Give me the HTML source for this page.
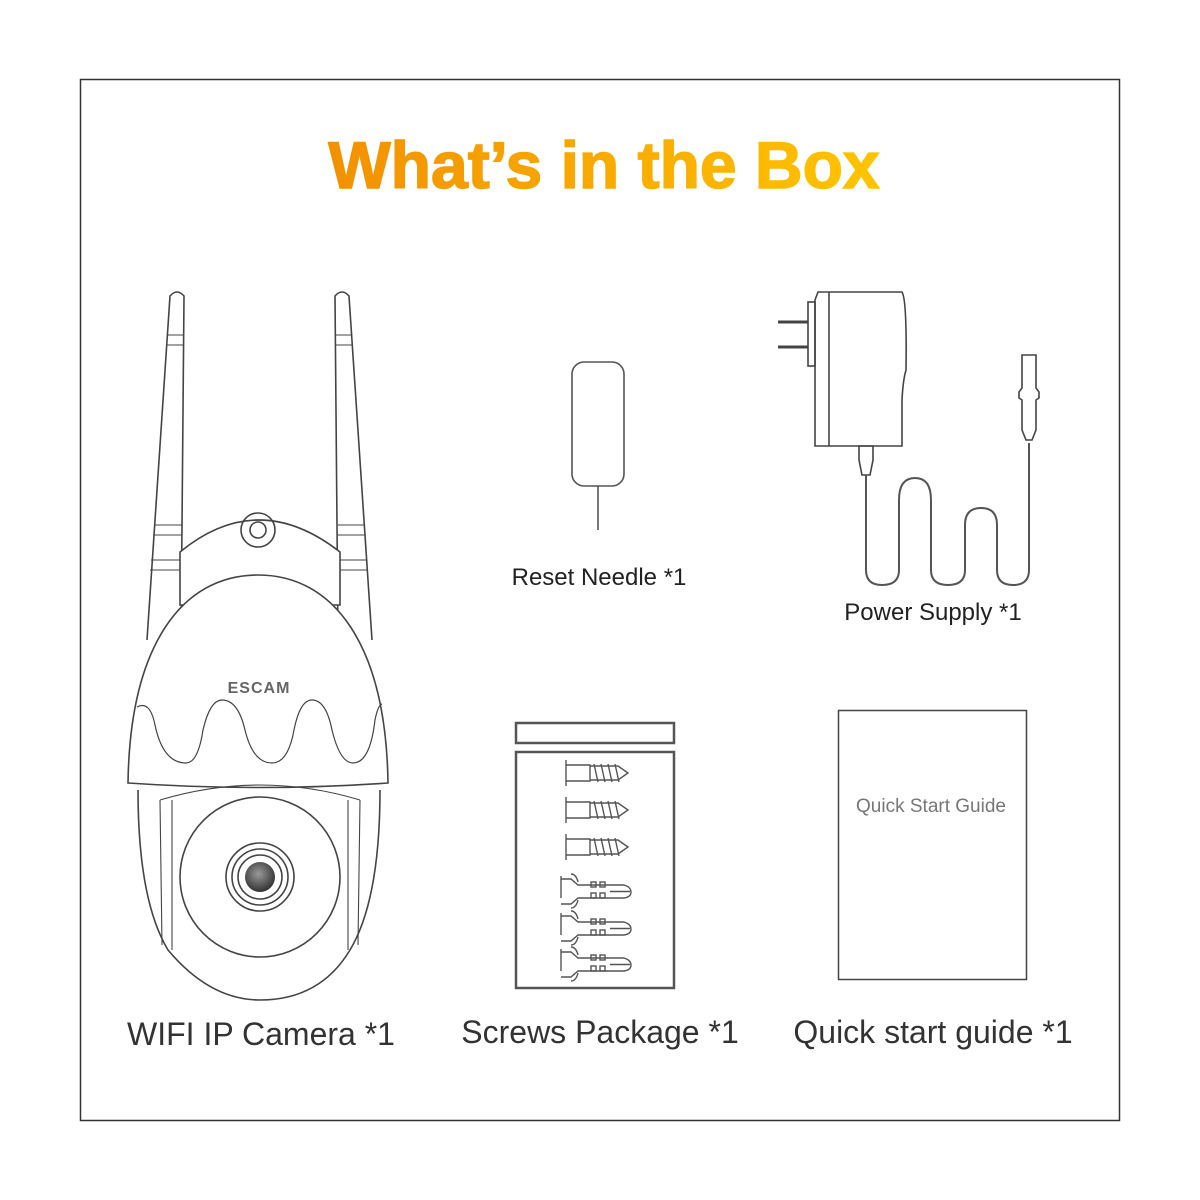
<!DOCTYPE html>
<html><head><meta charset="utf-8"><style>
html,body{margin:0;padding:0;background:#fff}
svg{display:block}
text{font-family:"Liberation Sans",sans-serif}
</style></head><body>
<svg width="1200" height="1200" viewBox="0 0 1200 1200" xmlns="http://www.w3.org/2000/svg">
<defs>
<linearGradient id="tg" x1="0" y1="0" x2="1" y2="0">
<stop offset="0" stop-color="#f29100"/><stop offset="1" stop-color="#ffc400"/>
</linearGradient>
<radialGradient id="lg" cx="0.45" cy="0.4" r="0.6"><stop offset="0" stop-color="#999"/><stop offset="1" stop-color="#333"/></radialGradient>
</defs>
<rect x="80.5" y="79.5" width="1039" height="1041" fill="none" stroke="#333" stroke-width="1.5"/>
<text x="604" y="188" text-anchor="middle" font-size="66" font-weight="bold" fill="url(#tg)" stroke="url(#tg)" stroke-width="1.5">What’s in the Box</text>

<g fill="none" stroke="#444" stroke-width="1.6">
<path d="M147 640 L170 296 Q177 288 184 296 L181 640" fill="#fff"/>
<path d="M167 335 L184 335 M166 345 L184 345 M154 525 L182 525 M153 535 L182 535 M151 560 L182 560 M150 570 L182 570" stroke-width="1.1"/>
<path d="M372 640 L349 296 Q342 288 335 296 L338 640" fill="#fff"/>
<path d="M335 335 L351 335 M335 345 L352 345 M338 525 L364 525 M338 535 L365 535 M338 560 L367 560 M338 570 L368 570" stroke-width="1.1"/>
<path d="M180 605 L180 552 Q258 488 340 552 L340 605 Z" fill="#fff"/>
<circle cx="258" cy="530" r="17"/><circle cx="258" cy="530" r="8"/>
<path d="M128 783 C130 645 182 575 258 575 C334 575 386 645 388 783 Q258 792 128 783 Z" fill="#fff"/>
<path d="M137 707 Q150 700 155 725 Q163 763 186 763 Q198 763 203 730 Q210 700 222 700 Q238 700 245 730 Q253 763 272 763 Q288 763 294 730 Q300 700 312 700 Q326 700 332 730 Q340 763 353 763 Q370 763 375 720 Q378 705 382 704" stroke-width="1.2"/>
<path d="M138 790 Q138 900 168 950 Q210 1000 260 1000 Q320 1000 350 950 Q380 900 380 790" fill="#fff"/>
<path d="M160 800 L162 945 M172 800 Q172 810 172 950 M360 800 L358 945 M348 800 Q348 810 348 950" stroke-width="1.1"/>
<path d="M160 800 Q260 770 360 800" stroke-width="1.1"/>
<circle cx="260" cy="877" r="80"/>
<circle cx="260" cy="877" r="34"/><circle cx="260" cy="877" r="28"/><circle cx="260" cy="877" r="22"/>
<circle cx="260" cy="877" r="15" fill="url(#lg)" stroke="none"/>
</g>
<text x="259" y="693" text-anchor="middle" font-size="16" font-weight="bold" fill="#666" letter-spacing="1">ESCAM</text>

<g fill="none" stroke="#555" stroke-width="1.6">
<rect x="572" y="362" width="52" height="124" rx="12"/>
<path d="M598 486 L598 530"/>
</g>

<g fill="none" stroke="#444" stroke-width="1.6">
<path d="M818 292 L902 292 Q907 300 906 370 Q903 380 902 400 L902 446 L815 446 L815 300 Z" fill="#fff"/>
<path d="M829 292 L829 446"/>
<rect x="808" y="302" width="7" height="64"/>
<path d="M778 322 L808 322 M778 347 L808 347" stroke-width="3"/>
<path d="M859 446 L873 446 L873 460 L870 475 L862 475 L859 460 Z"/>
<path d="M866 475 L866 570 Q866 585 882 585 Q899 585 899 570 L899 500 Q899 478 915 478 Q931 478 931 500 L931 570 Q931 585 948 585 Q965 585 965 570 L965 525 Q965 508 981 508 Q997 508 997 525 L997 570 Q997 585 1013 585 Q1029 585 1029 570 L1029 443" stroke="#555" stroke-width="2"/>
<path d="M1022 355 L1036 355 L1036 388 L1039 392 L1039 398 L1036 400 L1036 430 L1032 440 L1026 440 L1022 430 L1022 400 L1019 398 L1019 392 L1022 388 Z"/>
</g>

<g fill="none" stroke="#555" stroke-width="2.5">
<rect x="516" y="723" width="158" height="20"/>
<rect x="516" y="752" width="158" height="236"/>
</g>
<g fill="none" stroke="#555" stroke-width="1.4">
<g id="sc">
<path d="M566 760 L566 786 M566 765 L590 765 L590 781 L566 781 M590 766 L618 766 L628 773 L618 780 L590 780 M594 764 L598 782 M601 764 L605 782 M608 764 L612 782 M615 764 L619 782"/>
</g>
<use href="#sc" y="37"/><use href="#sc" y="74"/>
<g id="an">
<path d="M561 876 L561 898 M561 879 L571 879 L578 885 L624 885 Q631 887 631 892 Q631 897 624 898 L578 898 L571 904 L561 904 M571 874 Q576 874 578 882 M571 908 Q576 908 578 900 M610 891.5 L630 891.5"/>
<rect x="591" y="882" width="5" height="5"/><rect x="600" y="882" width="5" height="5"/>
<rect x="591" y="893" width="5" height="5"/><rect x="600" y="893" width="5" height="5"/>
</g>
<use href="#an" y="37"/><use href="#an" y="73"/>
</g>

<rect x="838.5" y="710.5" width="188" height="269" fill="none" stroke="#444" stroke-width="1.5"/>
<text x="931" y="812" text-anchor="middle" font-size="19" fill="#777">Quick Start Guide</text>

<g font-size="24" fill="#222">
<text x="599" y="585" text-anchor="middle">Reset Needle *1</text>
<text x="933" y="620" text-anchor="middle">Power Supply  *1</text>
</g>
<g font-size="32" fill="#333">
<text x="261" y="1045" text-anchor="middle">WIFI IP Camera  *1</text>
<text x="600" y="1043" text-anchor="middle">Screws Package  *1</text>
<text x="933" y="1043" text-anchor="middle">Quick start guide  *1</text>
</g>
</svg>
</body></html>
